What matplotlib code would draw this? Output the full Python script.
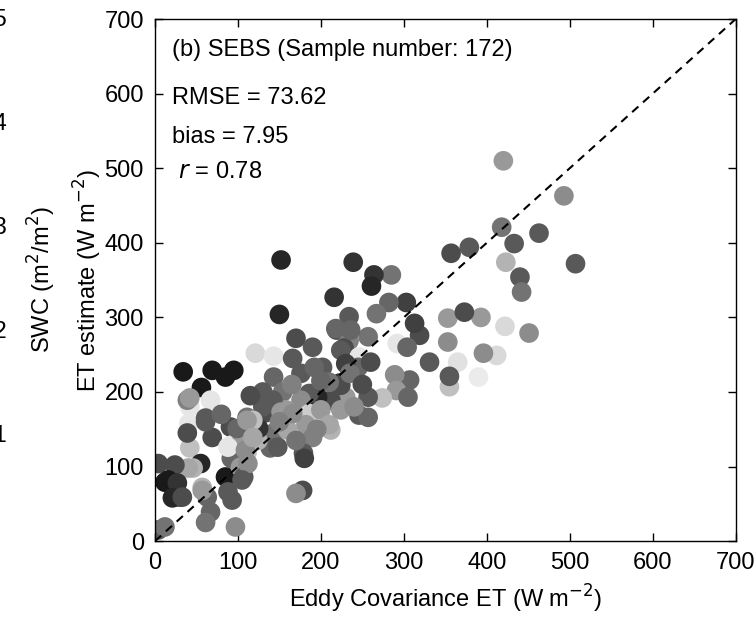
import numpy as np
import matplotlib
matplotlib.use("Agg")
import matplotlib.pyplot as plt

plt.rcParams['font.family'] = ['Liberation Sans', 'DejaVu Sans']

# Eddy covariance ET, SEBS ET estimate (W m-2) and grey shade of each sample (SWC)
ec_et = [420, 493, 418, 463, 379, 357, 433, 423, 440, 442, 507, 451, 422, 393, 353, 373,
         412, 396, 390, 355, 365, 355, 331, 353, 319, 313, 303, 282, 285, 264, 261, 239,
         216, 152, 150, 267, 234, 219, 257, 234, 228, 292, 304, 246, 245, 307, 289, 291,
         305, 274, 257, 223, 230, 246, 257, 212, 212,
         170, 190, 218, 236, 121, 143, 166, 202, 176, 143, 224, 230, 224, 210, 196, 186,
         154, 176, 133, 158, 186, 200, 210, 182, 121, 143, 160, 190, 107, 139, 179, 111,
         224, 130, 142, 152, 166, 178, 170, 148, 124, 125, 118, 180, 192,
         34, 69, 95, 85, 56, 42, 67, 39, 41, 61, 69, 42, 39, 91, 93, 103, 111, 92, 4, 12,
         22, 22, 30, 55, 46, 57, 63, 67, 61, 85, 103, 88, 93, 107, 97, 4, 12,
         42, 61, 99, 111, 40, 24, 16, 27, 21, 33, 57, 88, 109, 118, 112, 105,
         200, 165, 235, 250, 195, 170, 150, 240, 260, 130, 80, 115]
sebs_et = [510, 463, 421, 413, 394, 386, 399, 374, 354, 334, 372, 279, 288, 300, 299, 307,
           249, 252, 220, 207, 240, 221, 240, 267, 276, 292, 320, 320, 357, 357, 342, 374,
           327, 377, 304, 305, 301, 283, 274, 269, 259, 265, 260, 247, 233, 216, 223, 202,
           193, 192, 193, 212, 193, 169, 166, 189, 149,
           272, 260, 285, 283, 252, 248, 245, 233, 225, 220, 256, 238, 209, 213, 193, 198,
           200, 189, 172, 176, 171, 176, 156, 156, 153, 145, 149, 139, 131, 125, 118, 166,
           176, 180, 189, 173, 171, 68, 64, 126, 135, 151, 162, 111, 233,
           227, 229, 229, 220, 206, 180, 189, 189, 158, 165, 139, 125, 145, 153, 129, 131, 119, 111, 104, 79,
           79, 59, 59, 104, 98, 72, 59, 39, 25, 86, 99, 66, 55, 86, 19, 15, 19,
           192, 160, 151, 162, 98, 102, 82, 78, 58, 59, 68, 126, 122, 139, 104, 82,
           215, 210, 225, 210, 150, 135, 160, 180, 240, 200, 170, 195]
shade = [0.6, 0.55, 0.45, 0.35, 0.35, 0.3, 0.35, 0.7, 0.35, 0.45, 0.35, 0.55, 0.85, 0.6, 0.6, 0.3,
         0.85, 0.55, 0.92, 0.75, 0.88, 0.35, 0.35, 0.55, 0.3, 0.25, 0.25, 0.4, 0.45, 0.2, 0.15, 0.2,
         0.2, 0.15, 0.15, 0.45, 0.35, 0.3, 0.45, 0.5, 0.3, 0.9, 0.4, 0.9, 0.4, 0.4, 0.55, 0.6,
         0.4, 0.75, 0.35, 0.2, 0.6, 0.35, 0.4, 0.3, 0.7,
         0.3, 0.35, 0.4, 0.4, 0.85, 0.9, 0.35, 0.35, 0.35, 0.4, 0.35, 0.25, 0.3, 0.45, 0.15, 0.35,
         0.45, 0.55, 0.3, 0.6, 0.8, 0.6, 0.65, 0.6, 0.2, 0.45, 0.65, 0.5, 0.75, 0.4, 0.35, 0.45,
         0.6, 0.35, 0.35, 0.6, 0.55, 0.3, 0.55, 0.35, 0.7, 0.2, 0.75, 0.25, 0.4,
         0.1, 0.1, 0.1, 0.1, 0.1, 0.9, 0.9, 0.5, 0.9, 0.35, 0.3, 0.75, 0.3, 0.3, 0.9, 0.6, 0.75, 0.4, 0.3, 0.1,
         0.25, 0.2, 0.25, 0.15, 0.7, 0.7, 0.4, 0.4, 0.45, 0.1, 0.6, 0.35, 0.35, 0.35, 0.55, 0.35, 0.45,
         0.6, 0.35, 0.4, 0.6, 0.65, 0.3, 0.1, 0.2, 0.15, 0.3, 0.6, 0.9, 0.55, 0.65, 0.55, 0.35,
         0.4, 0.5, 0.45, 0.3, 0.5, 0.45, 0.5, 0.55, 0.3, 0.35, 0.4, 0.3]

cbar_ticks = ['0.5', '0.4', '0.3', '0.2', '0.1']

fig = plt.figure(figsize=(7.56, 6.17), dpi=100)
ax = fig.add_axes([0.205, 0.123, 0.768, 0.846])

ax.scatter(ec_et, sebs_et, c=shade, cmap='gray', vmin=0, vmax=1, s=200,
           edgecolors='none', zorder=2)
ax.plot([0, 700], [0, 700], color='black', linestyle=(0, (4, 3)), linewidth=1.5, zorder=3)

ax.set_xlim(0, 700)
ax.set_ylim(0, 700)
ax.set_xticks(range(0, 701, 100))
ax.set_yticks(range(0, 701, 100))
ax.tick_params(direction='in', length=6, width=1, labelsize=17, top=True, right=True, pad=8)
for sp in ax.spines.values():
    sp.set_linewidth(1.0)

ax.set_xlabel('Eddy Covariance ET (W m$^{-2}$)', fontsize=17, labelpad=6)
ax.set_ylabel('ET estimate (W m$^{-2}$)', fontsize=17, labelpad=0)

ax.text(0.03, 0.94, '(b) SEBS (Sample number: 172)', transform=ax.transAxes, fontsize=17, va='center')
ax.text(0.03, 0.848, 'RMSE = 73.62', transform=ax.transAxes, fontsize=17, va='center')
ax.text(0.03, 0.775, 'bias = 7.95', transform=ax.transAxes, fontsize=17, va='center')
ax.text(0.03, 0.708, ' $\\it{r}$ = 0.78', transform=ax.transAxes, fontsize=17, va='center')

# cropped colour bar labels from the neighbouring panel
for i, t in enumerate(cbar_ticks):
    fig.text(7 / 756, 1 - (20 + i * 104) / 617, t, fontsize=17, ha='right', va='center')
fig.text(42 / 756, 1 - 280 / 617, 'SWC (m$^2$/m$^2$)', fontsize=17, rotation=90,
         ha='center', va='center')

fig.savefig('out.png', dpi=100)
